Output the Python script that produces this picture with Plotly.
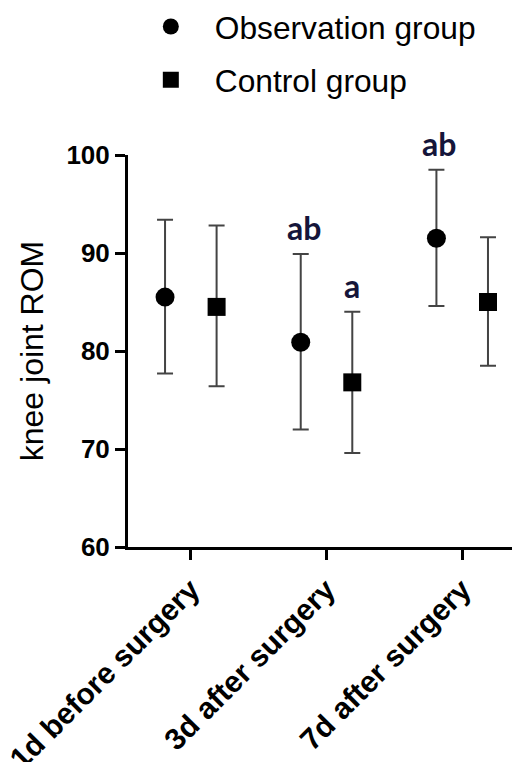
import plotly.graph_objects as go

categories = ["1d before surgery", "3d after surgery", "7d after surgery"]
obs_mean = [85.5, 80.9, 91.5]
obs_upper = [93.4, 89.9, 98.5]
obs_lower = [77.7, 72.0, 84.6]
ctl_mean = [84.5, 76.8, 85.0]
ctl_upper = [92.8, 84.0, 91.6]
ctl_lower = [76.4, 69.6, 78.5]
obs_labels = ["", "ab", "ab"]
ctl_labels = ["", "a", ""]

OFF = 0.19
idx = list(range(len(categories)))
obs_x = [i - OFF for i in idx]
ctl_x = [i + OFF for i in idx]

FONT = "Liberation Sans, Arial, sans-serif"
err_color = "#444444"

fig = go.Figure()
fig.add_trace(go.Scatter(
    x=obs_x, y=obs_mean, mode="markers", name="Observation group",
    legendgroup="obs",
    marker=dict(symbol="circle", size=19, color="black"),
    error_y=dict(type="data", symmetric=False,
                 array=[u - m for u, m in zip(obs_upper, obs_mean)],
                 arrayminus=[m - l for m, l in zip(obs_mean, obs_lower)],
                 color=err_color, thickness=2, width=8),
    cliponaxis=False,
))
fig.add_trace(go.Scatter(
    x=ctl_x, y=ctl_mean, mode="markers", name="Control group",
    legendgroup="ctl",
    marker=dict(symbol="square", size=18, color="black"),
    error_y=dict(type="data", symmetric=False,
                 array=[u - m for u, m in zip(ctl_upper, ctl_mean)],
                 arrayminus=[m - l for m, l in zip(ctl_mean, ctl_lower)],
                 color=err_color, thickness=2, width=8),
    cliponaxis=False,
))

for xs, ups, labs in [(obs_x, obs_upper, obs_labels), (ctl_x, ctl_upper, ctl_labels)]:
    for x, u, t in zip(xs, ups, labs):
        if t:
            fig.add_annotation(x=x, y=u, text=t, showarrow=False, yanchor="bottom",
                               yshift=5, xshift=3 if len(t) > 1 else 0,
                               font=dict(family="Lato, Liberation Sans, sans-serif",
                                         size=32, color="#15153a", weight="bold"))

fig.update_layout(
    width=512, height=754,
    margin=dict(l=120, r=0, t=147, b=215, autoexpand=False),
    plot_bgcolor="white", paper_bgcolor="white",
    font=dict(family=FONT, color="black"),
    showlegend=True,
    legend=dict(x=-0.003, y=1.397, xanchor="left", yanchor="top",
                font=dict(size=31.7, family=FONT, color="black"),
                tracegroupgap=9, itemwidth=78, bgcolor="rgba(0,0,0,0)"),
    xaxis=dict(range=[-0.463, 2.426], tickmode="array", tickvals=idx, ticktext=categories,
               tickangle=-45, showline=True, linecolor="black", linewidth=3,
               ticks="outside", ticklen=10, tickwidth=3, tickcolor="black",
               showgrid=False, zeroline=False, ticklabeloverflow="allow", automargin=False,
               tickfont=dict(size=30, family=FONT, weight="bold")),
    yaxis=dict(range=[60, 100], tickvals=[60, 70, 80, 90, 100],
               showline=True, linecolor="black", linewidth=3,
               ticks="outside", ticklen=10, tickwidth=3, tickcolor="black",
               showgrid=False, zeroline=False, automargin=False,
               tickfont=dict(size=26, family=FONT, weight="bold"),
               title=dict(text="knee joint ROM", font=dict(size=32, family=FONT),
                          standoff=14)),
)

fig.write_html("out.html")
